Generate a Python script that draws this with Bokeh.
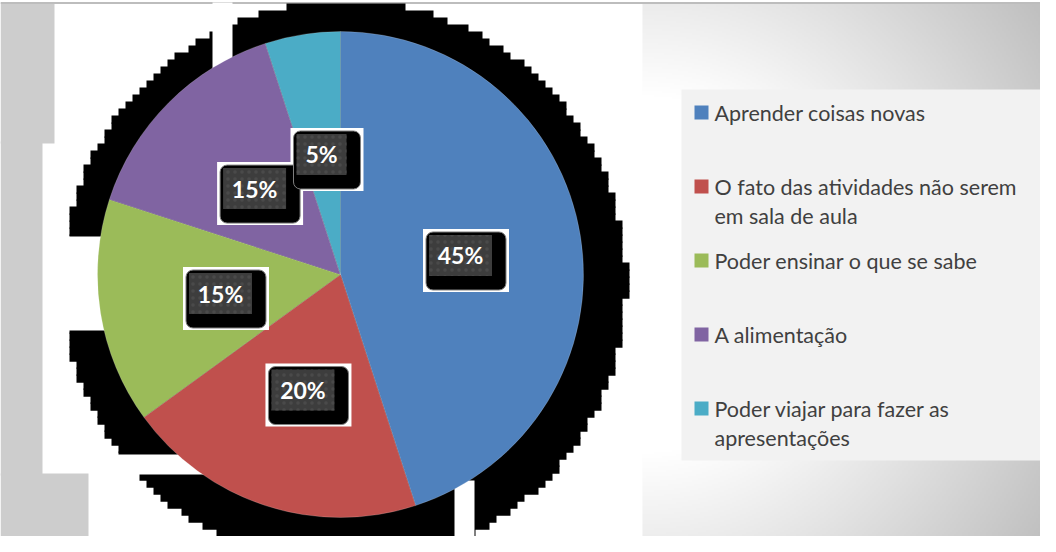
import numpy as np
from bokeh.plotting import figure
from bokeh.models import Range1d
from bokeh.core.properties import value
from bokeh.embed import file_html
from bokeh.resources import INLINE

# ---------------- data ----------------
categories = ["Aprender coisas novas",
              "O fato das atividades não serem em sala de aula",
              "Poder ensinar o que se sabe",
              "A alimentação",
              "Poder viajar para fazer as apresentações"]
legend_lines = [["Aprender coisas novas"],
                ["O fato das atividades não serem", "em sala de aula"],
                ["Poder ensinar o que se sabe"],
                ["A alimentação"],
                ["Poder viajar para fazer as", "apresentações"]]
values = [45, 20, 15, 15, 5]
colors = ["#4f81bd", "#c0504d", "#9bbb59", "#8064a2", "#4bacc6"]

# ---------------- geometry (page pixels) ----------------
W, H = 1040, 536
def Y(py):
    return 544 - py

CX, CY, R = 348, 282, 243          # pie
SCX, SCY, SR, STEP = 352, 290, 282, 7  # blocky shadow

p = figure(width=W, height=H, x_range=Range1d(8, 1048), y_range=Range1d(0, 536),
           output_backend="svg", toolbar_location=None,
           x_axis_location=None, y_axis_location=None, min_border=0)
p.grid.visible = False
p.outline_line_color = None
p.background_fill_color = "white"
p.border_fill_color = "white"

# background gradient panel (right)
gx0, gx1, gy0, gy1 = 650, 1048, 10, 544
nx, ny = 199, 267
xs = np.linspace(gx0, gx1, nx)
ys = np.linspace(gy1, gy0, ny)  # row 0 = bottom
XX, YY = np.meshgrid(xs, ys)
d = np.sqrt((XX - 650) ** 2 + (YY - 282) ** 2)
t = np.clip((d - 180) / 300, 0, 1)
c = (255 - 63 * t).astype(np.uint8)
img = np.empty((ny, nx), dtype=np.uint32)
v = img.view(dtype=np.uint8).reshape((ny, nx, 4))
v[:, :, 0] = c
v[:, :, 1] = c
v[:, :, 2] = c
v[:, :, 3] = 255
p.image_rgba(image=[img], x=gx0, y=Y(gy1), dw=gx1 - gx0, dh=gy1 - gy0)

# left gray column
p.quad(left=[8, 8, 8], right=[62, 50, 96], top=[Y(10), Y(149), Y(481)],
       bottom=[Y(151), Y(483), Y(552)], fill_color="#cdcdcd", line_color=None)
# top border line
p.segment(x0=8, y0=Y(10.5), x1=1048, y1=Y(10.5), line_color="#bdbdbd", line_width=2)

# blocky shadow
L, Rr, T, B = [], [], [], []
for py0 in range(11, 548, STEP):
    dy = py0 + STEP / 2 - SCY
    if abs(dy) >= SR:
        continue
    w = np.sqrt(SR ** 2 - dy ** 2)
    L.append(round((SCX - w) / STEP) * STEP)
    Rr.append(round((SCX + w) / STEP) * STEP)
    T.append(Y(py0))
    B.append(Y(py0 + STEP + 1.2))
p.quad(left=L, right=Rr, top=T, bottom=B, fill_color="black", line_color=None)

# gaps in the shadow
gl = [220, 60, 100, 462]
gr = [240, 130, 240, 482]
gt = [10, 244, 462, 488]
gb = [90, 338, 482, 560]
p.quad(left=gl, right=gr, top=[Y(v_) for v_ in gt], bottom=[Y(v_) for v_ in gb],
       fill_color="white", line_color=None)

# pie
fr = np.array(values, dtype=float) / sum(values)
cum = np.concatenate([[0], np.cumsum(fr)])
a_start = np.pi / 2 - 2 * np.pi * cum[:-1]
a_end = np.pi / 2 - 2 * np.pi * cum[1:]
p.wedge(x=CX, y=Y(CY), radius=R, start_angle=a_end, end_angle=a_start,
        direction="anticlock", fill_color=colors, line_color="white",
        line_alpha=0.3, line_width=0.6)

# data labels
mid = (a_start + a_end) / 2
tx = CX + 0.5 * R * np.cos(mid)
ty = CY - 0.5 * R * np.sin(mid)
labels = [f"{v_}%" for v_ in values]
hw = np.array([6.5 * len(s) + 12 for s in labels])
p.quad(left=tx - hw - 6, right=tx + hw + 17, top=Y(ty - 26.5), bottom=Y(ty + 36.5),
       fill_color="white", line_color=None)
p.quad(left=tx - hw - 3, right=tx + hw + 14, top=Y(ty - 23.5), bottom=Y(ty + 34.5),
       fill_color="black", line_color="#7f7f7f", line_width=1, border_radius=7)
p.quad(left=tx - hw, right=tx + hw, top=Y(ty - 20.5), bottom=Y(ty + 20.5),
       fill_color="#3d3d3d", line_color=None,
       hatch_pattern="dot", hatch_color="#4a4a4a", hatch_scale=7, hatch_weight=2)
p.text(x=tx, y=Y(ty), text=labels, text_color="white", text_align="center",
       text_baseline="middle", text_font=value("Lato"), text_font_style="bold",
       text_font_size="23px")

# legend
p.quad(left=689, right=1050, top=Y(97), bottom=Y(468), fill_color="#f2f2f2", line_color=None)
lx, ly0, lstep, lline = 702, 120, 74, 29
sq_y = [ly0 + lstep * i for i in range(len(categories))]
p.quad(left=lx, right=lx + 14, top=[Y(y - 7) for y in sq_y], bottom=[Y(y + 7) for y in sq_y],
       fill_color=colors, line_color=None)
tx_l, ty_l = [], []
for i, lines in enumerate(legend_lines):
    for j, s in enumerate(lines):
        tx_l.append(s)
        ty_l.append(Y(sq_y[i] + j * lline))
p.text(x=lx + 20, y=ty_l, text=tx_l, text_color="#404040", text_align="left",
       text_baseline="middle", text_font=value("Lato"), text_font_size="21.5px")

open("out.html", "w").write(file_html(p, INLINE))
